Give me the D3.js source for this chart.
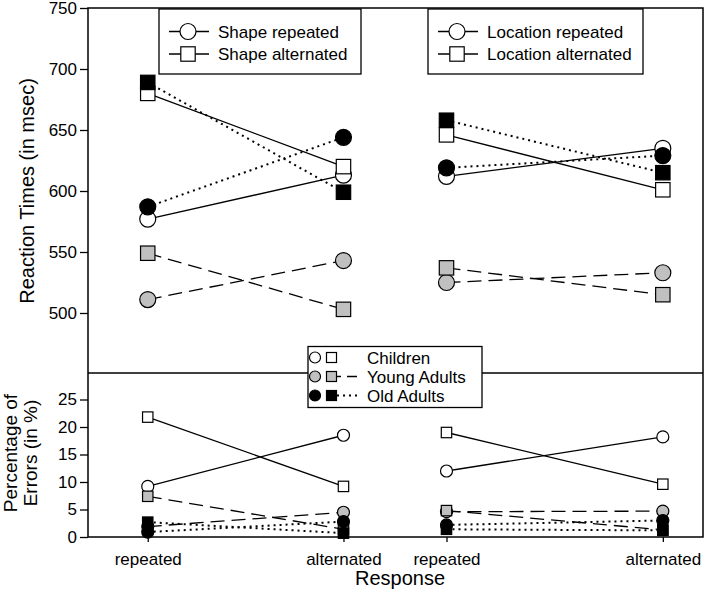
<!DOCTYPE html>
<html lang="en">
<head>
<meta charset="UTF-8">
<title>Reaction times and errors</title>
<script src="https://d3js.org/d3.v7.min.js"></script>
<style>
    body { margin: 0; background: #fff; }
    svg { display: block; font-family: Arial, "Liberation Sans", sans-serif; }
    .tick text { font-size: 17px; fill: #000; }
    .tick line { stroke: #000; stroke-width: 1.3; }
</style>
</head>
<body>
<svg id="chart" width="709" height="600"></svg>
<script>
    // x categories (shape block, then location block)
    const conditions = ["repeated", "alternated", "repeated", "alternated"];
    const condX = [1.0, 2.9, 3.9, 6.0];

    // reaction times (msec) - circle = feature repeated, square = feature alternated
    const childrenRepRT = [577, 613, 612, 635];
    const childrenAltRT = [680, 620, 646, 601];
    const youngRepRT = [511, 543, 525, 533];
    const youngAltRT = [549, 503, 537, 515];
    const oldRepRT = [587, 644, 619, 629];
    const oldAltRT = [689, 599, 658, 615];

    // percentage of errors
    const childrenRepErr = [9.2, 18.5, 12.0, 18.2];
    const childrenAltErr = [21.8, 9.2, 19.0, 9.6];
    const youngRepErr = [1.9, 4.5, 4.6, 4.7];
    const youngAltErr = [7.4, 1.4, 4.8, 1.3];
    const oldRepErr = [0.9, 2.8, 2.2, 3.0];
    const oldAltErr = [2.7, 0.7, 1.4, 1.2];

    const rtTicks = [500, 550, 600, 650, 700, 750];
    const errTicks = [0, 5, 10, 15, 20, 25];
    const groups = ["Children", "Young Adults", "Old Adults"];

    const groupStyle = {
        "Children": { fill: "#fff", dash: null, width: 1.3 },
        "Young Adults": { fill: "#c0c0c0", dash: "14,7", width: 1.3 },
        "Old Adults": { fill: "#000", dash: "2,4", width: 2 }
    };

    const rtSeries = [
        { group: "Children", shape: "circle", values: childrenRepRT },
        { group: "Children", shape: "square", values: childrenAltRT },
        { group: "Young Adults", shape: "circle", values: youngRepRT },
        { group: "Young Adults", shape: "square", values: youngAltRT },
        { group: "Old Adults", shape: "circle", values: oldRepRT },
        { group: "Old Adults", shape: "square", values: oldAltRT }
    ];
    const errSeries = [
        { group: "Children", shape: "circle", values: childrenRepErr },
        { group: "Children", shape: "square", values: childrenAltErr },
        { group: "Young Adults", shape: "circle", values: youngRepErr },
        { group: "Young Adults", shape: "square", values: youngAltErr },
        { group: "Old Adults", shape: "circle", values: oldRepErr },
        { group: "Old Adults", shape: "square", values: oldAltErr }
    ];

    const svg = d3.select("#chart");
    const plotL = 88, plotR = 703, plotT = 8, plotB = 537, split = 373;

    const x = d3.scaleLinear().domain([0.42, 6.39]).range([plotL, plotR]);
    const yTop = d3.scaleLinear().domain([450, 750]).range([374, plotT]);
    const yBot = d3.scaleLinear().domain([0, 30]).range([plotB, 372]);

    // axes
    svg.append("g").attr("transform", `translate(${plotL},0)`)
        .call(d3.axisLeft(yTop).tickValues(rtTicks).tickSize(8).tickPadding(3))
        .call(g => g.select(".domain").remove());
    svg.append("g").attr("transform", `translate(${plotL},0)`)
        .call(d3.axisLeft(yBot).tickValues(errTicks).tickSize(8).tickPadding(3))
        .call(g => g.select(".domain").remove());
    svg.append("g").attr("transform", `translate(0,${plotB})`)
        .call(d3.axisBottom(x).tickValues(condX).tickSize(5).tickPadding(11)
            .tickFormat((d, i) => conditions[i]))
        .call(g => g.select(".domain").remove());

    // frame + divider
    svg.append("rect").attr("x", plotL).attr("y", plotT)
        .attr("width", plotR - plotL).attr("height", plotB - plotT)
        .attr("fill", "none").attr("stroke", "#000").attr("stroke-width", 1.5);
    svg.append("line").attr("x1", plotL).attr("x2", plotR).attr("y1", split).attr("y2", split)
        .attr("stroke", "#000").attr("stroke-width", 1.5);

    // axis titles
    svg.append("text").attr("transform", "translate(34,191) rotate(-90)")
        .attr("text-anchor", "middle").style("font-size", "20px").text("Reaction Times (in msec)");
    svg.append("text").attr("transform", "translate(17,453) rotate(-90)")
        .attr("text-anchor", "middle").style("font-size", "19px").text("Percentage of");
    svg.append("text").attr("transform", "translate(37,453) rotate(-90)")
        .attr("text-anchor", "middle").style("font-size", "19px").text("Errors (in %)");
    svg.append("text").attr("x", 400).attr("y", 585)
        .attr("text-anchor", "middle").style("font-size", "20px").text("Response");

    function marker(sel, shape, size, fill) {
        if (shape === "circle") {
            sel.append("circle").attr("r", size).attr("fill", fill)
                .attr("stroke", "#000").attr("stroke-width", 1.2);
        } else {
            sel.append("rect").attr("x", -size).attr("y", -size)
                .attr("width", size * 2).attr("height", size * 2).attr("fill", fill)
                .attr("stroke", "#000").attr("stroke-width", 1.2);
        }
    }

    function drawPanel(series, y, size) {
        const line = d3.line().x(d => x(d[0])).y(d => y(d[1]));
        const g = svg.append("g");
        series.forEach(s => {
            const st = groupStyle[s.group];
            [[0, 1], [2, 3]].forEach(pair => {
                g.append("path")
                    .attr("d", line(pair.map(i => [condX[i], s.values[i]])))
                    .attr("fill", "none").attr("stroke", "#000")
                    .attr("stroke-width", st.width)
                    .attr("stroke-dasharray", st.dash);
            });
        });
        series.forEach(s => {
            const st = groupStyle[s.group];
            s.values.forEach((v, i) => {
                const m = g.append("g").attr("transform", `translate(${x(condX[i])},${y(v)})`);
                marker(m, s.shape, s.shape === "circle" ? size : size - 0.8, st.fill);
            });
        });
    }

    drawPanel(rtSeries, yTop, 8);
    drawPanel(errSeries, yBot, 6);

    // top legends
    function topLegend(x0, w, labels) {
        const g = svg.append("g");
        g.append("rect").attr("x", x0).attr("y", 9).attr("width", w).attr("height", 65)
            .attr("fill", "#fff").attr("stroke", "#000").attr("stroke-width", 1.3);
        labels.forEach((lab, i) => {
            const cy = 31.5 + i * 22.5;
            g.append("line").attr("x1", x0 + 10).attr("x2", x0 + 50).attr("y1", cy).attr("y2", cy)
                .attr("stroke", "#000").attr("stroke-width", 1.3);
            const m = g.append("g").attr("transform", `translate(${x0 + 29},${cy})`);
            marker(m, i === 0 ? "circle" : "square", i === 0 ? 8 : 7.2, "#fff");
            g.append("text").attr("x", x0 + 59).attr("y", cy + 6)
                .style("font-size", "17px").text(lab);
        });
    }
    topLegend(159, 202, ["Shape repeated", "Shape alternated"]);
    topLegend(428, 215, ["Location repeated", "Location alternated"]);

    // group legend
    const lg = svg.append("g");
    lg.append("rect").attr("x", 308).attr("y", 346.5).attr("width", 174).attr("height", 61)
        .attr("fill", "#fff").attr("stroke", "#000").attr("stroke-width", 1.3);
    groups.forEach((grp, i) => {
        const cy = 357.5 + i * 19;
        const st = groupStyle[grp];
        if (st.dash) {
            lg.append("line").attr("x1", 337).attr("x2", 359).attr("y1", cy).attr("y2", cy)
                .attr("stroke", "#000").attr("stroke-width", st.width)
                .attr("stroke-dasharray", grp === "Young Adults" ? "4,6,10" : "2,4");
        }
        marker(lg.append("g").attr("transform", `translate(315,${cy})`), "circle", 5.5, st.fill);
        marker(lg.append("g").attr("transform", `translate(331.5,${cy})`), "square", 5, st.fill);
        lg.append("text").attr("x", 367).attr("y", cy + 6)
            .style("font-size", "17px").text(grp);
    });
</script>
</body>
</html>
